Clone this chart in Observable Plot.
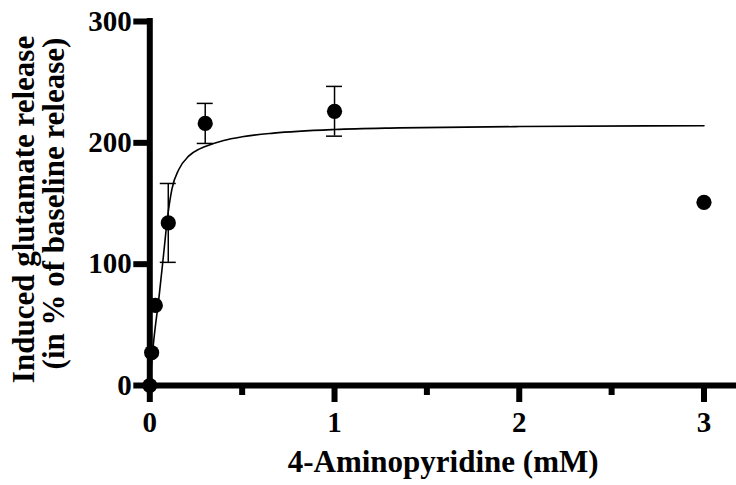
<!DOCTYPE html>
<html>
<head>
<meta charset="utf-8">
<script src="https://cdn.jsdelivr.net/npm/d3@7"></script>
<script src="https://cdn.jsdelivr.net/npm/@observablehq/plot@0.6"></script>
<style>
  html, body { margin: 0; padding: 0; background: #fff; }
  #chart svg { display: block; }
</style>
</head>
<body>
<div id="chart"></div>
<script>
// Measured data (mean ± SEM)
const concentration = [0, 0.01, 0.03, 0.1, 0.3, 1, 3];
const release = [0, 27, 66, 134, 216, 226, 151];
const sem = [0, 0, 0, 32.5, 16.5, 20.5, 0];

// Fitted curve
const fitX = [0, 0.01, 0.022, 0.05, 0.076, 0.094, 0.12, 0.157, 0.21, 0.27, 0.3, 0.4, 0.5, 0.67, 1, 1.35, 2, 3];
const fitY = [0, 19, 38, 73, 110, 136, 162, 178, 189, 195, 197, 202, 205, 208, 211, 212.3, 213.4, 214.1];

// Axis ticks
const xMajor = [0, 1, 2, 3];
const xMinor = [0.5, 1.5, 2.5];
const yMajor = [0, 100, 200, 300];

const xTitle = "4-Aminopyridine (mM)";
const yTitle1 = "Induced glutamate release";
const yTitle2 = "(in % of baseline release)";

const points = concentration.map((c, i) => ({x: c, y: release[i], sem: sem[i]}));
const bars = points.filter(d => d.sem > 0).map(d => ({x: d.x, lo: d.y - d.sem, hi: d.y + d.sem}));
const curve = fitX.map((x, i) => ({x, y: fitY[i]}));

const font = "Liberation Serif, Times New Roman, serif";
const fs = 29;
const tfs = 31;

const chart = Plot.plot({
  width: 736,
  height: 485,
  marginLeft: 149.3,
  marginRight: 0,
  marginTop: 21,
  marginBottom: 100,
  style: {fontFamily: font, fontWeight: "bold", fontSize: fs + "px", color: "#000", background: "#fff"},
  x: {domain: [0, 3.176], axis: null},
  y: {domain: [0, 300], axis: null},
  marks: [
    Plot.line(curve, {x: "x", y: "y", curve: "monotone-x", stroke: "#000", strokeWidth: 1.6}),
    Plot.ruleX(bars, {x: "x", y1: "lo", y2: "hi", stroke: "#000", strokeWidth: 1.5}),
    Plot.ruleY(bars, {x1: "x", x2: "x", y: "hi", insetLeft: -8, insetRight: -8, stroke: "#000", strokeWidth: 1.5}),
    Plot.ruleY(bars, {x1: "x", x2: "x", y: "lo", insetLeft: -8, insetRight: -8, stroke: "#000", strokeWidth: 1.5}),
    Plot.dot(points, {x: "x", y: "y", r: 7.6, fill: "#000", stroke: "none"}),
    // axis lines
    Plot.ruleX([0], {y1: 0, y2: 300, stroke: "#000", strokeWidth: 6, strokeLinecap: "square"}),
    Plot.ruleY([0], {x1: 0, x2: 3.176, stroke: "#000", strokeWidth: 6, strokeLinecap: "square"}),
    // ticks
    Plot.axisX(xMajor, {tickSize: 17, tickPadding: 9, strokeWidth: 6, fontSize: fs, fontWeight: "bold", fontFamily: font, tickFormat: d3.format("d"), label: null}),
    Plot.axisX(xMinor, {tickSize: 10, strokeWidth: 6, text: null, label: null}),
    Plot.axisY(yMajor, {tickSize: 16, tickPadding: 2, strokeWidth: 6, fontSize: fs, fontWeight: "bold", fontFamily: font, tickFormat: d3.format("d"), label: null}),
    // titles
    Plot.text([xTitle], {frameAnchor: "bottom", dy: 86, textAnchor: "middle", fontSize: tfs, fontWeight: "bold", fontFamily: font, fill: "#000"}),
    Plot.text([yTitle1], {frameAnchor: "left", dx: -126, dy: 6, textAnchor: "middle", rotate: -90, fontSize: tfs, fontWeight: "bold", fontFamily: font, fill: "#000"}),
    Plot.text([yTitle2], {frameAnchor: "left", dx: -96, dy: 0, textAnchor: "middle", rotate: -90, fontSize: tfs, fontWeight: "bold", fontFamily: font, fill: "#000"})
  ]
});
document.getElementById("chart").append(chart);
</script>
</body>
</html>
